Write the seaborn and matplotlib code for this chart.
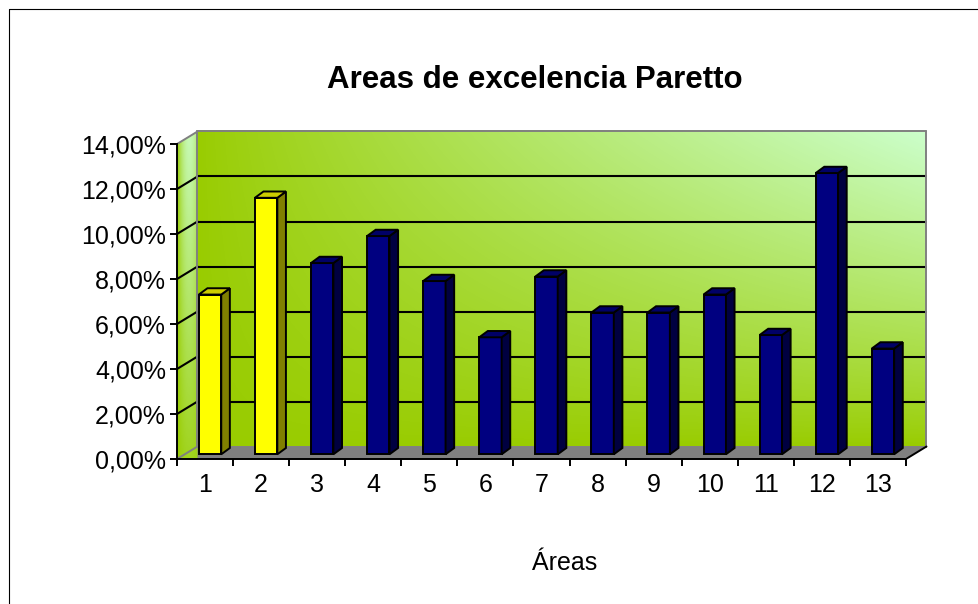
import numpy as np
import pandas as pd
import matplotlib
matplotlib.use("Agg")
import matplotlib.pyplot as plt
from matplotlib.patches import Polygon
from matplotlib.transforms import IdentityTransform, offset_copy
from matplotlib.ticker import FuncFormatter
import seaborn as sns

# Share of each area (percent)
areas = ["1", "2", "3", "4", "5", "6", "7", "8", "9", "10", "11", "12", "13"]
porcentajes = [7.1, 11.4, 8.5, 9.7, 7.7, 5.2, 7.9, 6.3, 6.3, 7.1, 5.3, 12.5, 4.7]
destacadas = ["1", "2"]
y_ticks = [0, 2, 4, 6, 8, 10, 12, 14]

AMARILLO = "#FFFF00"
AZUL = "#000080"
GRIS = "#808080"
VERDE = np.array([153, 204, 0]) / 255
PALIDO = np.array([204, 255, 204]) / 255

sns.set_theme(style="ticks")
plt.rcParams["font.family"] = ["Liberation Sans", "DejaVu Sans"]

W, H = 979, 604
fig = plt.figure(figsize=(W / 100, H / 100), dpi=100)
fig.patch.set_facecolor("white")

# background layer in pixel units for the 3-D box (walls, floor)
bg = fig.add_axes([0, 0, 1, 1], zorder=0)
bg.set_autoscale_on(False)
bg.set_xlim(0, W)
bg.set_ylim(0, H)
bg.axis("off")

# front plane of the chart
ax = fig.add_axes([177 / W, (H - 459) / H, 729 / W, 315 / H], zorder=1)
ax.patch.set_alpha(0)

df = pd.DataFrame({"area": areas, "pct": porcentajes})
palette = {a: (AMARILLO if a in destacadas else AZUL) for a in areas}
sns.barplot(data=df, x="area", y="pct", hue="area", palette=palette,
            width=0.4, saturation=1, edgecolor="black", linewidth=1.4,
            legend=False, ax=ax, zorder=3)
ax.set_xlim(-0.5, 12.5)
ax.set_ylim(0, 14)

WALL = (20.5, 12.5)   # depth of the box, in pixels
FRONT = (5.0, 4.7)    # shift of the bar fronts behind the axis plane
DEPTH = (8.6, 6.3)    # depth of each bar


def px(x, y):
    return ax.transData.transform((x, y))


x0, y0 = px(-0.5, 0)
x1, y1 = px(12.5, 14)
bx0, by0 = x0 + WALL[0], y0 + WALL[1]
bx1, by1 = x1 + WALL[0], y1 + WALL[1]

# floor
bg.add_patch(Polygon([(x0, y0), (x1, y0), (bx1, by0), (bx0, by0)],
                     closed=True, facecolor=GRIS, edgecolor="none", zorder=0.5))

# back wall with gradient (pale toward top-right corner)
n = 256
u = np.linspace(0, 1, n)[None, :]
v = np.linspace(0, 1, n)[:, None]
t = np.clip(u * v, 0, 1) ** 0.85
img = VERDE + (PALIDO - VERDE) * t[..., None]
bg.imshow(img, extent=(bx0, bx1, by0, by1), origin="lower", aspect="auto",
          interpolation="bilinear", zorder=1)

# side wall with gradient clipped to its outline
side = Polygon([(x0, y0), (x0, y1), (bx0, by1), (bx0, y0)], closed=True,
               facecolor="none", edgecolor="none", transform=bg.transData)
bg.add_patch(side)
su = np.linspace(0, 1, 64)[None, :]
sv = np.linspace(0, 1, 256)[:, None]
bump = np.clip(1 - ((su - 0.6) / 0.6) ** 2, 0, 1)
st = np.clip(bump * (0.15 + 0.75 * sv), 0, 1)
simg = VERDE + (PALIDO - VERDE) * st[..., None]
im_side = bg.imshow(simg, extent=(x0, bx0, y0, by1), origin="lower",
                    aspect="auto", interpolation="bilinear", zorder=1.2)
im_side.set_clip_path(side)

# gridlines on back and side walls
for val in y_ticks[1:-1]:
    gy = px(0, val)[1]
    bg.plot([bx0, bx1], [gy + WALL[1], gy + WALL[1]], color="black", lw=1.5, zorder=2)
    bg.plot([x0, bx0], [gy, gy + WALL[1]], color="black", lw=1.5, zorder=2)

# box outlines
for (xa, ya), (xb, yb) in [((bx0, by0), (bx0, by1)), ((bx0, by1), (bx1, by1)),
                           ((bx1, by0), (bx1, by1)), ((bx0, by0), (bx1, by0)),
                           ((x0, y1), (bx0, by1)), ((x0, y0), (bx0, by0))]:
    bg.plot([xa, xb], [ya, yb], color=GRIS, lw=1.4, zorder=2.5)
bg.plot([x1, bx1], [y0, by0], color="black", lw=1.4, zorder=2.5)

# 3-D faces of the bars
front_tr = offset_copy(ax.transData, fig=fig, x=FRONT[0], y=FRONT[1], units="dots")
for patch in list(ax.patches):
    patch.set_transform(front_tr)
    patch.set_clip_on(False)
    bx, bw, bh = patch.get_x(), patch.get_width(), patch.get_height()
    fc = np.array(patch.get_facecolor()[:3])
    xl, yb_ = front_tr.transform((bx, 0))
    xr, yt = front_tr.transform((bx + bw, bh))
    dx, dy = DEPTH
    side_face = Polygon([(xr, yb_), (xr, yt), (xr + dx, yt + dy), (xr + dx, yb_ + dy)],
                        closed=True, facecolor=fc * 0.5, edgecolor="black", lw=1.4,
                        transform=IdentityTransform(), clip_on=False, zorder=3)
    top_face = Polygon([(xl, yt), (xr, yt), (xr + dx, yt + dy), (xl + dx, yt + dy)],
                       closed=True, facecolor=fc * 0.8, edgecolor="black", lw=1.4,
                       transform=IdentityTransform(), clip_on=False, zorder=3)
    ax.add_patch(side_face)
    ax.add_patch(top_face)

# axes, ticks and labels
for s in ["top", "right"]:
    ax.spines[s].set_visible(False)
for s in ["left", "bottom"]:
    ax.spines[s].set_color("black")
    ax.spines[s].set_linewidth(1.4)
    ax.spines[s].set_zorder(4)

ax.set_yticks(y_ticks)
ax.yaxis.set_major_formatter(FuncFormatter(lambda val, pos: f"{val:.2f}%".replace(".", ",")))
ax.tick_params(axis="y", left=True, direction="out", length=5, width=1.4,
               color="black", pad=3, labelsize=18, labelcolor="black")
ax.set_xticks(range(len(areas)))
ax.set_xticklabels(areas)
ax.set_xticks(np.arange(-0.5, len(areas), 1), minor=True)
ax.tick_params(axis="x", which="major", bottom=True, length=0, pad=10,
               labelsize=18, labelcolor="black")
ax.tick_params(axis="x", which="minor", bottom=True, direction="out", length=5,
               width=1.4, color="black")
ax.set_ylabel("")
ax.set_xlabel("Áreas", fontsize=18, color="black")
ax.xaxis.set_label_coords((565 - 177) / 729, -(563 - 459) / 315)
ax.xaxis.label.set_va("center")

fig.text(535 / W, 1 - 80 / H, "Areas de excelencia Paretto", ha="center",
         va="center", fontsize=22.5, fontweight="bold", color="black")

# chart frame
bg.plot([9.5, 9.5], [0, H - 8.5], color="black", lw=0.8, zorder=5)
bg.plot([9.5, W], [H - 8.5, H - 8.5], color="black", lw=0.8, zorder=5)

bg.set_xlim(0, W)
bg.set_ylim(0, H)
fig.savefig("out.png", dpi=100, facecolor="white")
